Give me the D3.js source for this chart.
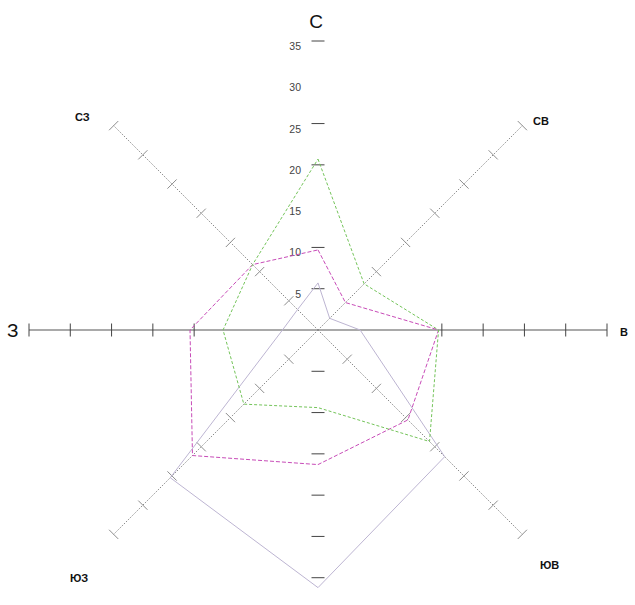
<!DOCTYPE html>
<html lang="ru">
<head>
<meta charset="utf-8">
<title>роза ветров</title>
<script src="https://d3js.org/d3.v7.min.js"></script>
<style>
  body{margin:0;background:#fff;font-family:"Liberation Sans",Arial,sans-serif;}
  .dir{font-weight:bold;font-size:11px;fill:#111;}
  .big{font-size:19px;fill:#111;}
  .tlab{font-size:10.5px;fill:#444;}
</style>
</head>
<body>
<div id="chart"></div>
<script>
// directions clockwise from north
var directions = ["С","СВ","В","ЮВ","Ю","ЮЗ","З","СЗ"]
// three series
var greenVals   = [20.7, 7.9, 14.6, 19.1, 9.4, 12.7, 11.5, 11.2]
var magentaVals = [9.7, 4.7, 14.6, 15.4, 16.3, 21.5, 15.5, 11.2]
var lilacVals   = [5.7, 2.0, 5.1, 21.7, 31.2, 25.3, 4.3, 3.5]
// tick labels on the north axis
var tickLabels = [5,10,15,20,25,30,35]
// tick marks that are visible on each axis (same order as directions)
var axisTicks = [
  [5,10,20,25,35],
  [10,15,20,25,30,35],
  [15,20,25,30,35],
  [5,10,15,20,25,30,35],
  [5,10,15,20,25,30],
  [5,10,15,20,25,30,35],
  [15,20,25,30,35],
  [5,10,15,20,25,30,35]
]

var w = 635, h = 605
var cx = 318, cy = 330
var rScale = d3.scaleLinear().domain([0,35]).range([0,289])
var aScale = d3.scaleLinear().domain([0,8]).range([0,2*Math.PI])

function px(i,v){ return cx + rScale(v)*Math.sin(aScale(i)) }
function py(i,v){ return cy - rScale(v)*Math.cos(aScale(i)) }

var svg = d3.select("#chart").append("svg")
  .attr("width",w).attr("height",h)

// axes: E-W solid, diagonals dotted, N-S without a line
var axisG = svg.append("g")
axisG.append("line")
  .attr("x1",px(6,35)).attr("y1",py(6,35))
  .attr("x2",px(2,35)).attr("y2",py(2,35))
  .attr("stroke","#555").attr("stroke-width",1.1)

axisG.selectAll("line.diag")
  .data([1,3,5,7])
  .enter().append("line")
  .attr("class","diag")
  .attr("x1",cx).attr("y1",cy)
  .attr("x2",function(d){ return px(d,35) })
  .attr("y2",function(d){ return py(d,35) })
  .attr("stroke","#8a8a8a")
  .attr("stroke-width",1)
  .attr("stroke-dasharray","1.5,1.5")

// tick marks, perpendicular to each axis
var tickData = []
axisTicks.forEach(function(list,i){
  list.forEach(function(v){ tickData.push({i:i,v:v}) })
})
var tl = 6.5
axisG.selectAll("line.tick")
  .data(tickData)
  .enter().append("line")
  .attr("class","tick")
  .attr("x1",function(d){ return px(d.i,d.v) - tl*Math.cos(aScale(d.i)) })
  .attr("y1",function(d){ return py(d.i,d.v) - tl*Math.sin(aScale(d.i)) })
  .attr("x2",function(d){ return px(d.i,d.v) + tl*Math.cos(aScale(d.i)) })
  .attr("y2",function(d){ return py(d.i,d.v) + tl*Math.sin(aScale(d.i)) })
  .attr("stroke",function(d){ return d.i%2==0 ? "#444" : "#8c8c8c" })
  .attr("stroke-width",1)

// value labels on the north axis
svg.selectAll("text.tlab")
  .data(tickLabels)
  .enter().append("text")
  .attr("class","tlab")
  .attr("x",cx-17)
  .attr("y",function(d){ return py(0,d)+9 })
  .attr("text-anchor","end")
  .text(function(d){ return d })

// series
var line = d3.line()
  .x(function(d,i){ return px(i,d) })
  .y(function(d,i){ return py(i,d) })
  .curve(d3.curveLinearClosed)

var series = [
  {vals:lilacVals,   color:"#bdb5d2", dash:null},
  {vals:magentaVals, color:"#c84cb8", dash:"4,2"},
  {vals:greenVals,   color:"#74c45a", dash:"3,2"}
]
svg.selectAll("path.series")
  .data(series)
  .enter().append("path")
  .attr("class","series")
  .attr("d",function(d){ return line(d.vals) })
  .attr("fill","none")
  .attr("stroke",function(d){ return d.color })
  .attr("stroke-width",1)
  .attr("stroke-dasharray",function(d){ return d.dash })

// direction labels
var labelPos = [
  {x:316, y:28,  cls:"big", anchor:"middle"},
  {x:533, y:125, cls:"dir", anchor:"start"},
  {x:620, y:336, cls:"dir", anchor:"start"},
  {x:540, y:569, cls:"dir", anchor:"start"},
  null,
  {x:70,  y:582, cls:"dir", anchor:"start"},
  {x:7,   y:337, cls:"big", anchor:"start"},
  {x:75,  y:121, cls:"dir", anchor:"start"}
]
directions.forEach(function(name,i){
  var p = labelPos[i]
  if(!p) return
  svg.append("text")
    .attr("class",p.cls)
    .attr("x",p.x).attr("y",p.y)
    .attr("text-anchor",p.anchor)
    .text(name)
})
</script>
</body>
</html>
